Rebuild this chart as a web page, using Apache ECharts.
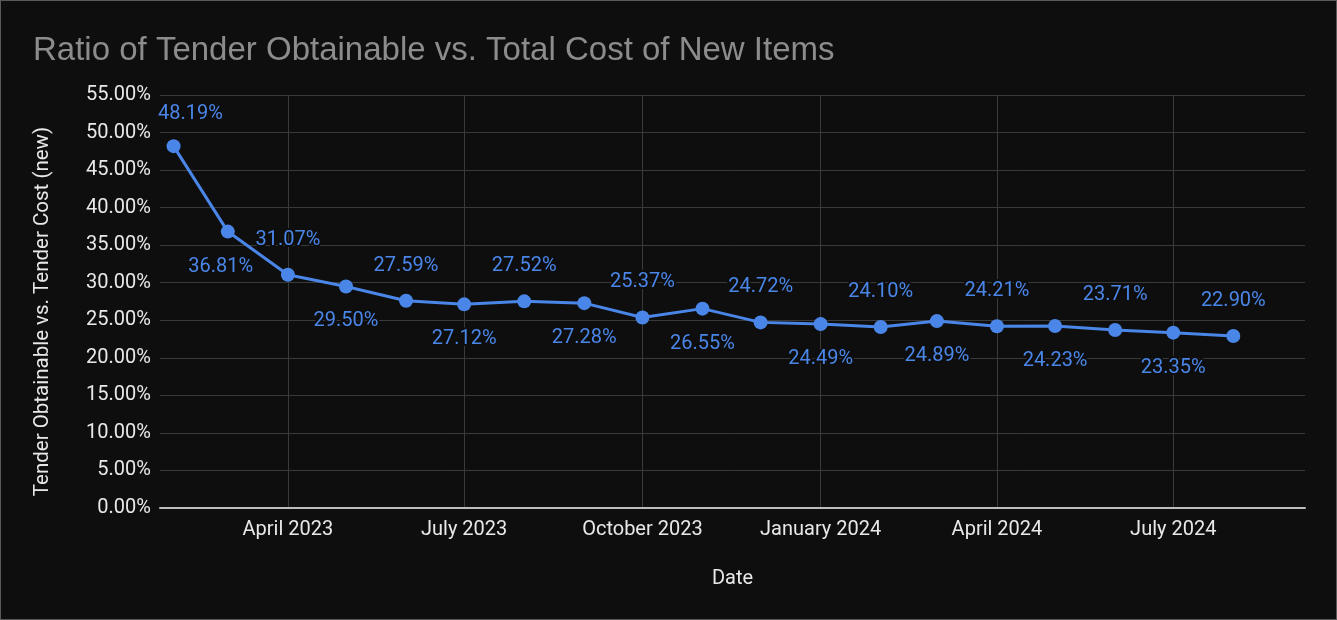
<!DOCTYPE html>
<html>
<head>
<meta charset="utf-8">
<script src="https://cdn.jsdelivr.net/npm/echarts@6/dist/echarts.min.js"></script>
<style>
html,body{margin:0;padding:0;background:#0e0e0e;}
#c{width:1335px;height:618px;border:1px solid #5a5a5a;}
</style>
</head>
<body>
<div id="c"></div>
<script>
const dates = ['2023-02-01','2023-03-01','2023-04-01','2023-05-01','2023-06-01','2023-07-01','2023-08-01','2023-09-01','2023-10-01','2023-11-01','2023-12-01','2024-01-01','2024-02-01','2024-03-01','2024-04-01','2024-05-01','2024-06-01','2024-07-01','2024-08-01'];
const values = [48.19,36.81,31.07,29.50,27.59,27.12,27.52,27.28,25.37,26.55,24.72,24.49,24.10,24.89,24.21,24.23,23.71,23.35,22.90];
const tickDates = ['2023-04-01','2023-07-01','2023-10-01','2024-01-01','2024-04-01','2024-07-01'];
const monthNames = ['January','February','March','April','May','June','July','August','September','October','November','December'];
const title = 'Ratio of Tender Obtainable vs. Total Cost of New Items';
const yName = 'Tender Obtainable vs. Tender Cost (new)';
const xName = 'Date';

function ts(s){ const p=s.split('-'); return Date.UTC(+p[0], +p[1]-1, +p[2]); }
const tickTs = tickDates.map(ts);
const chart = echarts.init(document.getElementById('c'));
const labelColor = '#4a86e8';
const labelOffsets = {0: [17, 3], 1: [-7, 0]};
chart.setOption({
  backgroundColor: '#0e0e0e',
  title: {text: title, left: 27, top: 28, textStyle: {color: '#8c8c8c', fontSize: 33, fontWeight: 'normal', fontFamily: 'Liberation Sans, Arial'}},
  grid: {left: 159, right: 31, top: 94, bottom: 111},
  xAxis: {
    type: 'value',
    min: ts('2023-01-25'), max: ts('2024-09-07'),
    name: xName, nameLocation: 'middle', nameGap: 61,
    nameTextStyle: {color: '#e8e8e8', fontSize: 20, fontFamily: 'Roboto'},
    axisLine: {lineStyle: {color: '#bdbdbd', width: 2}},
    axisTick: {show: true, length: 0, customValues: tickTs, lineStyle:{color:'rgba(0,0,0,0)'}},
    axisLabel: {customValues: tickTs, color: '#e8e8e8', fontSize: 20, fontFamily: 'Roboto', margin: 12,
      formatter: function(v){ const d = new Date(v); return monthNames[d.getUTCMonth()] + ' ' + d.getUTCFullYear(); }},
    splitLine: {show: true, lineStyle: {color: '#3a3a3a', width: 1}}
  },
  yAxis: {
    type: 'value', min: 0, max: 55, interval: 5,
    name: yName, nameLocation: 'middle', nameGap: 107, nameRotate: 90,
    nameTextStyle: {color: '#e8e8e8', fontSize: 20.5, fontFamily: 'Roboto', padding: [0, 20, 0, 0]},
    axisLine: {show: false}, axisTick: {show: false},
    axisLabel: {color: '#e8e8e8', fontSize: 20, fontFamily: 'Roboto', margin: 9, formatter: v => v.toFixed(2) + '%'},
    splitLine: {lineStyle: {color: '#3a3a3a', width: 1}}
  },
  series: [{
    type: 'line',
    data: dates.map((d,i) => ({
      value: [ts(d), values[i]],
      label: {position: i % 2 === 0 ? 'top' : 'bottom', offset: labelOffsets[i] || [0, 0]}
    })),
    lineStyle: {color: labelColor, width: 3},
    itemStyle: {color: labelColor},
    symbol: 'circle', symbolSize: 14,
    label: {show: true, distance: 18, color: labelColor, fontSize: 20, fontFamily: 'Roboto',
      textBorderColor: '#0e0e0e', textBorderWidth: 4,
      formatter: p => p.value[1].toFixed(2) + '%'},
    animation: false
  }]
});
</script>
</body>
</html>
